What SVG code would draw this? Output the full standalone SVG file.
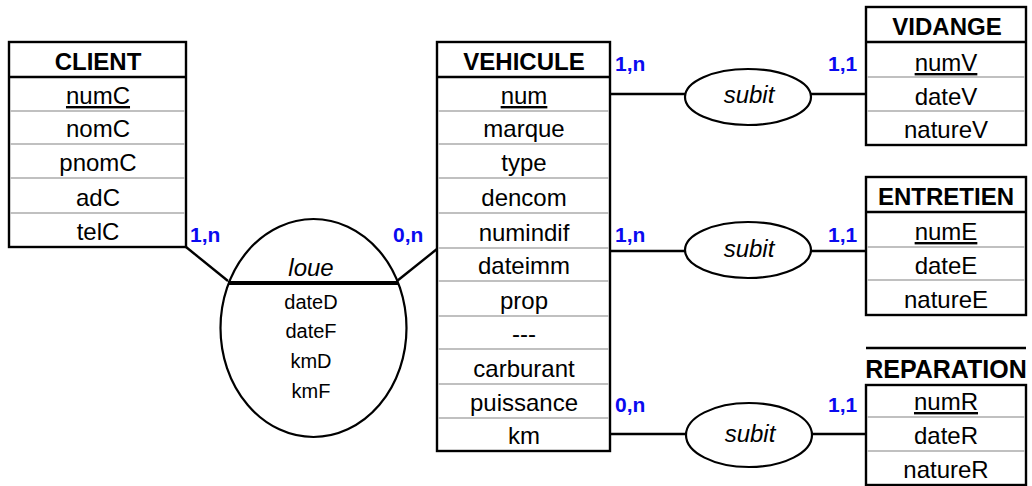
<svg xmlns="http://www.w3.org/2000/svg" width="1032" height="486" viewBox="0 0 1032 486">
  <style>
    .box { fill: #ffffff; stroke: #000000; stroke-width: 2.4; }
    .hline { stroke: #000000; stroke-width: 2.4; }
    .sep { stroke: #c0c0c0; stroke-width: 2; }
    .link { stroke: #000000; stroke-width: 2.4; fill: none; }
    .rel { fill: #ffffff; stroke: #000000; stroke-width: 2.2; }
    .title { font-family: "Liberation Sans", Arial, sans-serif; font-weight: bold; font-size: 24px; text-anchor: middle; fill: #000000; }
    .attr { font-family: "Liberation Sans", Arial, sans-serif; font-size: 24px; text-anchor: middle; fill: #000000; }
    .key { text-decoration: underline; }
    .rname { font-family: "Liberation Sans", Arial, sans-serif; font-style: italic; font-size: 24px; text-anchor: middle; fill: #000000; }
    .rattr { font-family: "Liberation Sans", Arial, sans-serif; font-size: 20px; text-anchor: middle; fill: #000000; }
    .card { font-family: "Liberation Sans", Arial, sans-serif; font-weight: bold; font-size: 21px; fill: #0a0af0; }
  </style>

  <!-- connectors -->
  <g id="connectors">
    <line class="link" x1="186" y1="247" x2="228" y2="281"/>
    <line class="link" x1="437" y1="249" x2="397" y2="281"/>
    <line class="link" x1="610" y1="94" x2="685" y2="94"/>
    <line class="link" x1="811" y1="94" x2="866" y2="94"/>
    <line class="link" x1="610" y1="251" x2="685" y2="251"/>
    <line class="link" x1="811" y1="251" x2="866" y2="251"/>
    <line class="link" x1="610" y1="434" x2="686" y2="434"/>
    <line class="link" x1="812" y1="434" x2="866" y2="434"/>
  </g>

  <!-- CLIENT entity -->
  <g id="client">
    <rect class="box" x="9" y="42" width="177" height="205"/>
    <line class="hline" x1="9" y1="77" x2="186" y2="77"/>
    <line class="sep" x1="10" y1="111" x2="185" y2="111"/>
    <line class="sep" x1="10" y1="144" x2="185" y2="144"/>
    <line class="sep" x1="10" y1="178" x2="185" y2="178"/>
    <line class="sep" x1="10" y1="213" x2="185" y2="213"/>
    <text class="title" x="98" y="70">CLIENT</text>
    <text class="attr key" x="98" y="104">numC</text>
    <text class="attr" x="98" y="137">nomC</text>
    <text class="attr" x="98" y="171">pnomC</text>
    <text class="attr" x="98" y="206">adC</text>
    <text class="attr" x="98" y="240">telC</text>
  </g>

  <!-- VEHICULE entity -->
  <g id="vehicule">
    <rect class="box" x="437" y="42" width="173" height="409"/>
    <line class="hline" x1="437" y1="77" x2="610" y2="77"/>
    <line class="sep" x1="438" y1="111" x2="609" y2="111"/>
    <line class="sep" x1="438" y1="144" x2="609" y2="144"/>
    <line class="sep" x1="438" y1="178" x2="609" y2="178"/>
    <line class="sep" x1="438" y1="213" x2="609" y2="213"/>
    <line class="sep" x1="438" y1="248" x2="609" y2="248"/>
    <line class="sep" x1="438" y1="281" x2="609" y2="281"/>
    <line class="sep" x1="438" y1="316" x2="609" y2="316"/>
    <line class="sep" x1="438" y1="349" x2="609" y2="349"/>
    <line class="sep" x1="438" y1="384" x2="609" y2="384"/>
    <line class="sep" x1="438" y1="418" x2="609" y2="418"/>
    <text class="title" x="524" y="70">VEHICULE</text>
    <text class="attr key" x="524" y="104">num</text>
    <text class="attr" x="524" y="137">marque</text>
    <text class="attr" x="524" y="171">type</text>
    <text class="attr" x="524" y="206">dencom</text>
    <text class="attr" x="524" y="241">numindif</text>
    <text class="attr" x="524" y="274">dateimm</text>
    <text class="attr" x="524" y="309">prop</text>
    <text class="attr" x="524" y="342">---</text>
    <text class="attr" x="524" y="377">carburant</text>
    <text class="attr" x="524" y="411">puissance</text>
    <text class="attr" x="524" y="444">km</text>
  </g>

  <!-- loue association -->
  <g id="loue">
    <ellipse class="rel" cx="313.5" cy="328" rx="93" ry="109"/>
    <line x1="228" y1="283" x2="398" y2="283" stroke="#000000" stroke-width="4"/>
    <text class="rname" x="311" y="276">loue</text>
    <text class="rattr" x="311" y="309">dateD</text>
    <text class="rattr" x="311" y="338">dateF</text>
    <text class="rattr" x="311" y="368">kmD</text>
    <text class="rattr" x="311" y="398">kmF</text>
    <text class="card" x="190" y="242">1,n</text>
    <text class="card" x="393" y="242">0,n</text>
  </g>

  <!-- subit association with VIDANGE -->
  <g id="subit-vidange">
    <ellipse class="rel" cx="748" cy="97" rx="63" ry="28"/>
    <text class="rname" x="749" y="103">subit</text>
    <text class="card" x="615" y="71">1,n</text>
    <text class="card" x="828" y="71">1,1</text>
  </g>

  <!-- VIDANGE entity -->
  <g id="vidange">
    <rect class="box" x="866" y="7" width="160" height="138"/>
    <line class="hline" x1="866" y1="42" x2="1026" y2="42"/>
    <line class="sep" x1="867" y1="77" x2="1025" y2="77"/>
    <line class="sep" x1="867" y1="111" x2="1025" y2="111"/>
    <text class="title" x="947" y="35">VIDANGE</text>
    <text class="attr key" x="946" y="71">numV</text>
    <text class="attr" x="946" y="105">dateV</text>
    <text class="attr" x="946" y="138">natureV</text>
  </g>

  <!-- subit association with ENTRETIEN -->
  <g id="subit-entretien">
    <ellipse class="rel" cx="748" cy="250" rx="63" ry="28"/>
    <text class="rname" x="749" y="257">subit</text>
    <text class="card" x="615" y="242">1,n</text>
    <text class="card" x="828" y="242">1,1</text>
  </g>

  <!-- ENTRETIEN entity -->
  <g id="entretien">
    <rect class="box" x="866" y="177" width="160" height="138"/>
    <line class="hline" x1="866" y1="212" x2="1026" y2="212"/>
    <line class="sep" x1="867" y1="247" x2="1025" y2="247"/>
    <line class="sep" x1="867" y1="280" x2="1025" y2="280"/>
    <text class="title" x="946" y="205">ENTRETIEN</text>
    <text class="attr key" x="946" y="240">numE</text>
    <text class="attr" x="946" y="274">dateE</text>
    <text class="attr" x="946" y="308">natureE</text>
  </g>

  <!-- subit association with REPARATION -->
  <g id="subit-reparation">
    <ellipse class="rel" cx="749" cy="435" rx="63" ry="32"/>
    <text class="rname" x="750" y="442">subit</text>
    <text class="card" x="615" y="412">0,n</text>
    <text class="card" x="828" y="412">1,1</text>
  </g>

  <!-- REPARATION entity (title wider than its box) -->
  <g id="reparation">
    <line class="hline" x1="866" y1="348" x2="1026" y2="348"/>
    <rect class="box" x="866" y="385" width="160" height="100"/>
    <line class="sep" x1="867" y1="417" x2="1025" y2="417"/>
    <line class="sep" x1="867" y1="451" x2="1025" y2="451"/>
    <text class="title" x="946" y="378" style="font-size:25px">REPARATION</text>
    <text class="attr key" x="946" y="410">numR</text>
    <text class="attr" x="946" y="444">dateR</text>
    <text class="attr" x="946" y="478">natureR</text>
  </g>
</svg>
